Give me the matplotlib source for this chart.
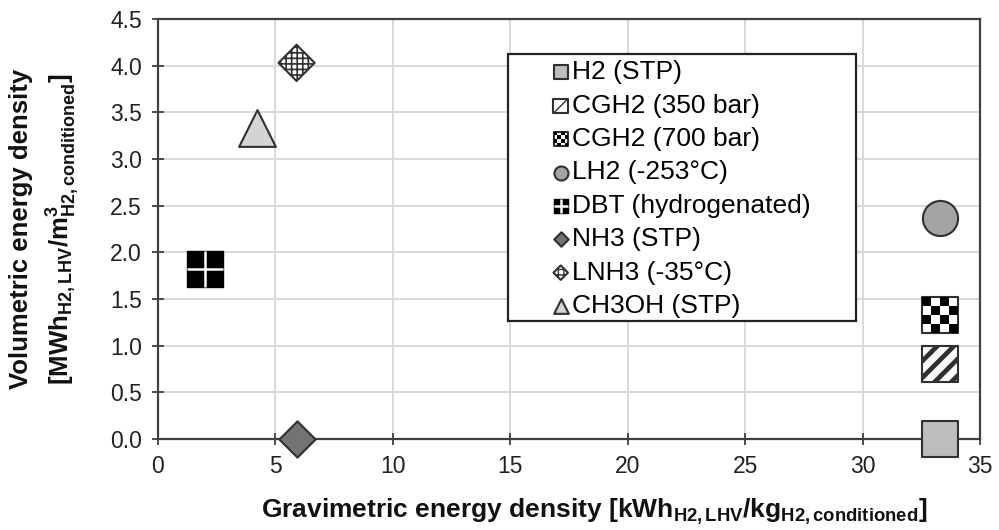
import numpy as np
import matplotlib
matplotlib.use('Agg')
import matplotlib.pyplot as plt
from matplotlib.path import Path
from matplotlib.patches import Rectangle
from matplotlib.legend_handler import HandlerTuple

plt.rcParams['font.family'] = ['Liberation Sans', 'DejaVu Sans']
plt.rcParams['mathtext.fontset'] = 'custom'
plt.rcParams['mathtext.rm'] = 'Liberation Sans'
plt.rcParams['mathtext.bf'] = 'Liberation Sans:bold'
plt.rcParams['mathtext.it'] = 'Liberation Sans:italic'

# data
labels = ['H2 (STP)', 'CGH2 (350 bar)', 'CGH2 (700 bar)', 'LH2 (-253°C)',
          'DBT (hydrogenated)', 'NH3 (STP)', 'LNH3 (-35°C)', 'CH3OH (STP)']
grav = [33.3, 33.3, 33.3, 33.3, 2.0, 5.9, 5.9, 4.2]   # kWh/kg
vol = [0.0, 0.8, 1.33, 2.37, 1.82, 0.0, 4.03, 3.33]    # MWh/m3
x_ticks = [0, 5, 10, 15, 20, 25, 30, 35]
y_ticks = [0.0, 0.5, 1.0, 1.5, 2.0, 2.5, 3.0, 3.5, 4.0, 4.5]

# checkerboard marker (4x4 cells)
verts, codes = [], []
for i in range(4):
    for j in range(4):
        if (i + j) % 2 == 0:
            x0, y0 = i - 2, 1 - j
            verts += [(x0, y0), (x0 + 1, y0), (x0 + 1, y0 + 1), (x0, y0 + 1), (x0, y0)]
            codes += [Path.MOVETO, Path.LINETO, Path.LINETO, Path.LINETO, Path.CLOSEPOLY]
checker = Path(verts, codes)

fig = plt.figure(figsize=(9.99, 5.30), dpi=100)
ax = fig.add_axes([158 / 999, 1 - 439 / 530, 822 / 999, 420 / 530])

edge = '#303030'
common = dict(clip_on=False, zorder=6, edgecolors=edge, linewidths=1.5)


def hatched(x, y, marker, s, hatch, hlw, **kw):
    with plt.rc_context({'hatch.linewidth': hlw}):
        sc = ax.scatter([x], [y], marker=marker, s=s, hatch=hatch, **kw)
    if hasattr(sc, 'set_hatch_linewidth'):
        sc.set_hatch_linewidth(hlw)
    return sc


h = []
h.append(ax.scatter([grav[0]], [vol[0]], marker='s', s=680, facecolors='#bdbdbd', **common))
h.append(hatched(grav[1], vol[1], 's', 680, '//', 3.4, facecolors='white', **common))
a = ax.scatter([grav[2]], [vol[2]], marker='s', s=680, facecolors='white', **common)
b = ax.scatter([grav[2]], [vol[2]], marker=checker, s=640, facecolors='black',
               linewidths=0, clip_on=False, zorder=7)
h.append((a, b))
h.append(ax.scatter([grav[3]], [vol[3]], marker='o', s=640, facecolors='#a3a3a3', **common))
a = ax.scatter([grav[4]], [vol[4]], marker='s', s=660, facecolors='black',
               edgecolors='black', linewidths=1, clip_on=False, zorder=6)
b = ax.scatter([grav[4]], [vol[4]], marker='+', s=660, color='white',
               linewidths=1.8, clip_on=False, zorder=7)
h.append((a, b))
h.append(ax.scatter([grav[5]], [vol[5]], marker='D', s=340, facecolors='#737373', **common))
h.append(hatched(grav[6], vol[6], 'D', 340, '+++', 1.2, facecolors='white', **common))
h.append(ax.scatter([grav[7]], [vol[7]], marker='^', s=700, facecolors='#d4d4d4', **common))

ax.set_xlim(0, 35)
ax.set_ylim(0, 4.5)
ax.set_xticks(x_ticks)
ax.set_yticks(y_ticks)
ax.set_yticklabels(['%.1f' % v for v in y_ticks])
ax.grid(True, color='#d9d9d9', linewidth=1.4)
ax.set_axisbelow(True)
for sp in ax.spines.values():
    sp.set_color('#404040')
    sp.set_linewidth(1.6)
ax.tick_params(direction='inout', length=9, width=1.3, color='#404040',
               labelsize=16.5, labelcolor='#222222', pad=7)

ax.set_xlabel(r'Gravimetric energy density [kWh$_{\mathbf{H2,LHV}}$/kg$_{\mathbf{H2,conditioned}}$]',
              fontsize=19, fontweight='bold', color='#111111')
ax.xaxis.set_label_coords(0.53, -0.137)
ax.set_ylabel('Volumetric energy density\n'
              r'[MWh$_{\mathbf{H2,LHV}}$/m$^{\mathbf{3}}_{\mathbf{H2,conditioned}}$]',
              fontsize=18.5, fontweight='bold', color='#111111', linespacing=1.45)
ax.yaxis.set_label_coords(-0.093, 0.5)

# legend box
ax.add_patch(Rectangle((0.4258, 0.281), 0.4232, 0.6357, transform=ax.transAxes,
                       facecolor='white', edgecolor='#222222', linewidth=1.6, zorder=4))
leg = ax.legend(h, labels, loc='upper left', bbox_to_anchor=(0.4793, 0.9015),
                frameon=False, fontsize=19, markerscale=0.4, borderpad=0,
                borderaxespad=0, handlelength=0.66, handletextpad=0.1,
                labelspacing=0.355, handler_map={tuple: HandlerTuple(ndivide=1, pad=0)})
leg.set_zorder(8)

fig.savefig('out.png', dpi=100)
